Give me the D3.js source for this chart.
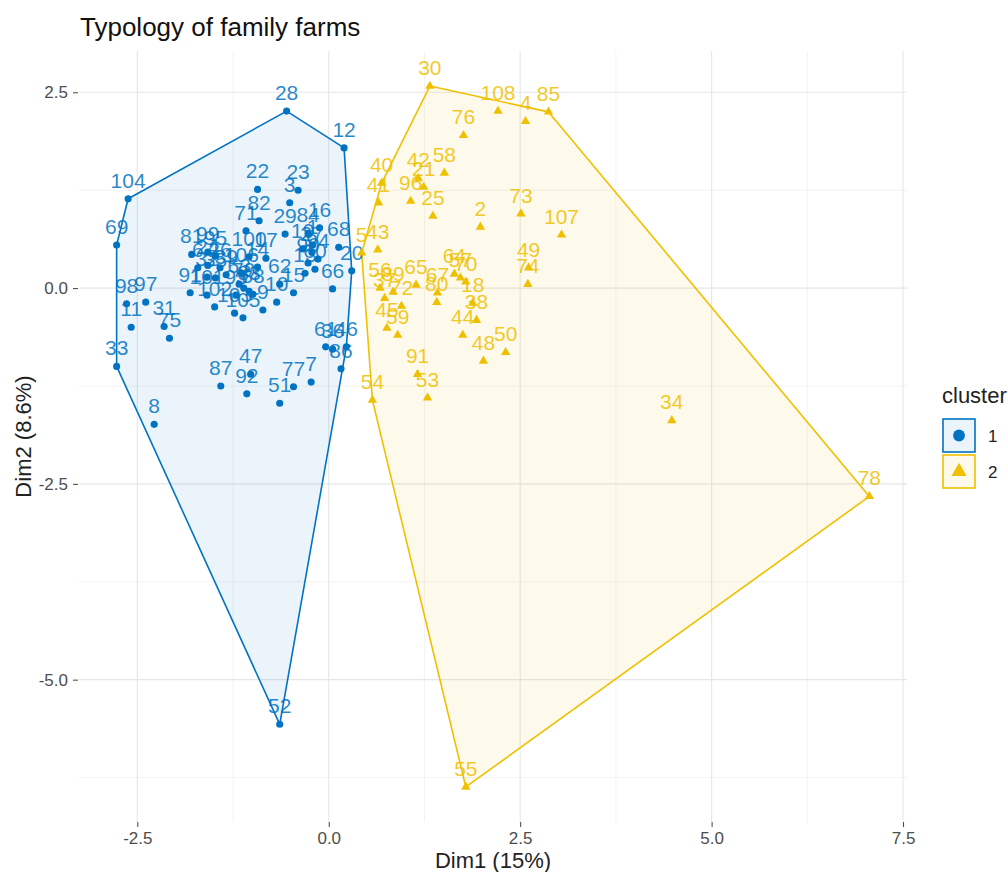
<!DOCTYPE html>
<html><head><meta charset="utf-8">
<script src="https://cdn.jsdelivr.net/npm/d3@7"></script>
<style>
body{margin:0;background:#fff;}
svg{display:block;font-family:"Liberation Sans",Arial,Helvetica,sans-serif;}
</style>
</head><body>
<svg id="chart" width="1008" height="872"></svg>
<script>
// ---------- data ----------
const chartTitle = "Typology of family farms";
const xTitle = "Dim1 (15%)";
const yTitle = "Dim2 (8.6%)";
const legendTitle = "cluster";
const clusterNames = ["1", "2"];
const clusterColors = ["#0073C2", "#EFC000"];
const xTicks = [-2.5, 0, 2.5, 5, 7.5];
const xTickLabels = ["-2.5", "0.0", "2.5", "5.0", "7.5"];
const yTicks = [2.5, 0, -2.5, -5];
const yTickLabels = ["2.5", "0.0", "-2.5", "-5.0"];
const xMinor = [-1.25, 1.25, 3.75, 6.25];
const yMinor = [1.25, -1.25, -3.75, -6.25];

const c1Ids = ["104","69","28","12","20","46","52","8","33","98","97","11","31","75","87","47","92","51","77","7","61","36","86","22","23","3","82","71","29","16","68","84","100","17","62","10","9","15","66","91","81","99","95","6","24","26","32","35","39","63","79","83","88","93","101","102","103","105","106","14","19","1","27","94","90","60","13"];
const c1X = [-2.62,-2.77,-0.55,0.20,0.30,0.23,-0.64,-2.28,-2.77,-2.64,-2.39,-2.58,-2.15,-2.08,-1.41,-1.02,-1.07,-0.64,-0.46,-0.23,-0.04,0.05,0.16,-0.93,-0.40,-0.51,-0.91,-1.08,-0.57,-0.12,0.13,-0.27,-1.04,-0.82,-0.64,-0.68,-0.86,-0.46,0.05,-1.81,-1.79,-1.58,-1.48,-1.71,-1.58,-1.42,-1.59,-1.48,-1.34,-1.17,-1.11,-1.04,-0.99,-1.21,-1.59,-1.49,-1.23,-1.12,-1.14,-0.93,-0.34,-0.21,-0.22,-0.14,-0.27,-0.18,-0.31];
const c1Y = [1.14,0.55,2.26,1.79,0.22,-0.75,-5.57,-1.74,-1.00,-0.20,-0.18,-0.50,-0.49,-0.64,-1.25,-1.10,-1.35,-1.47,-1.26,-1.20,-0.75,-0.78,-1.03,1.26,1.25,1.09,0.86,0.73,0.69,0.77,0.52,0.70,0.40,0.38,0.05,-0.18,-0.28,-0.06,-0.01,-0.06,0.43,0.46,0.41,0.26,0.29,0.26,0.14,0.13,0.17,0.05,0.00,-0.04,-0.08,-0.09,-0.09,-0.24,-0.32,-0.38,0.19,0.27,0.50,0.55,0.46,0.37,0.32,0.24,0.19];

const c2Ids = ["30","108","4","85","76","58","42","21","96","25","2","73","107","40","41","43","5","49","74","64","57","70","56","89","37","72","65","67","80","45","59","44","18","38","91","53","54","48","50","34","78","55"];
const c2X = [1.32,2.21,2.57,2.87,1.76,1.51,1.17,1.24,1.07,1.36,1.98,2.51,3.04,0.69,0.65,0.64,0.43,2.61,2.60,1.64,1.72,1.79,0.67,0.84,0.73,0.95,1.14,1.42,1.41,0.76,0.90,1.75,1.88,1.93,1.16,1.29,0.57,2.02,2.31,4.48,7.06,1.79];
const c2Y = [2.58,2.26,2.13,2.25,1.95,1.47,1.40,1.29,1.11,0.92,0.78,0.95,0.68,1.34,1.09,0.49,0.45,0.26,0.05,0.18,0.13,0.08,0.00,-0.05,-0.13,-0.23,0.04,-0.06,-0.18,-0.51,-0.60,-0.60,-0.19,-0.41,-1.10,-1.40,-1.43,-0.93,-0.82,-1.69,-2.66,-6.37];

// ---------- layout ----------
const svg = d3.select("#chart");
const panel = {left: 79, right: 907, top: 51, bottom: 822};

const groups = [
  {name: clusterNames[0], color: clusterColors[0], shape: d3.symbolCircle,
   pts: c1Ids.map((id, i) => ({id, x: c1X[i], y: c1Y[i]}))},
  {name: clusterNames[1], color: clusterColors[1], shape: d3.symbolTriangle,
   pts: c2Ids.map((id, i) => ({id, x: c2X[i], y: c2Y[i]}))}
];
const all = groups.flatMap(g => g.pts);
const xe = d3.extent(all, d => d.x), ye = d3.extent(all, d => d.y);
const xp = (xe[1] - xe[0]) * 0.05, yp = (ye[1] - ye[0]) * 0.05;
const x = d3.scaleLinear().domain([xe[0] - xp, xe[1] + xp]).range([panel.left, panel.right]);
const y = d3.scaleLinear().domain([ye[0] - yp, ye[1] + yp]).range([panel.bottom, panel.top]);

// grid
const grid = svg.append("g");
grid.selectAll(".xm").data(xMinor).join("line")
  .attr("x1", d => x(d)).attr("x2", d => x(d)).attr("y1", panel.top).attr("y2", panel.bottom)
  .attr("stroke", "#EBEBEB").attr("stroke-width", 0.6);
grid.selectAll(".ym").data(yMinor).join("line")
  .attr("y1", d => y(d)).attr("y2", d => y(d)).attr("x1", panel.left).attr("x2", panel.right)
  .attr("stroke", "#EBEBEB").attr("stroke-width", 0.6);
grid.selectAll(".xM").data(xTicks).join("line")
  .attr("x1", d => x(d)).attr("x2", d => x(d)).attr("y1", panel.top).attr("y2", panel.bottom)
  .attr("stroke", "#E6E6E6").attr("stroke-width", 1.1);
grid.selectAll(".yM").data(yTicks).join("line")
  .attr("y1", d => y(d)).attr("y2", d => y(d)).attr("x1", panel.left).attr("x2", panel.right)
  .attr("stroke", "#E6E6E6").attr("stroke-width", 1.1);

// axes
const xAxis = d3.axisBottom(x).tickValues(xTicks).tickFormat((d, i) => xTickLabels[i]).tickSize(5).tickPadding(5);
const yAxis = d3.axisLeft(y).tickValues(yTicks).tickFormat((d, i) => yTickLabels[i]).tickSize(5).tickPadding(5);
const gx = svg.append("g").attr("transform", `translate(0,${panel.bottom})`).call(xAxis);
const gy = svg.append("g").attr("transform", `translate(${panel.left - 1},0)`).call(yAxis);
[gx, gy].forEach(g => {
  g.select(".domain").remove();
  g.selectAll(".tick line").attr("stroke", "#444").attr("stroke-width", 1);
  g.selectAll(".tick text").attr("fill", "#4D4D4D").style("font-size", "17px")
   .style("font-family", '"Liberation Sans",Arial,sans-serif');
});

// hulls
groups.forEach(g => {
  const hull = d3.polygonHull(g.pts.map(p => [x(p.x), y(p.y)]));
  svg.append("path")
    .attr("d", "M" + hull.map(p => p.join(",")).join("L") + "Z")
    .attr("fill", g.color).attr("fill-opacity", 0.08)
    .attr("stroke", g.color).attr("stroke-width", 1.6).attr("stroke-linejoin", "round");
});

// points + labels
groups.forEach(g => {
  const size = g.shape === d3.symbolCircle ? 40 : 38;
  svg.append("g").selectAll("path").data(g.pts).join("path")
    .attr("d", d3.symbol().type(g.shape).size(size))
    .attr("transform", d => `translate(${x(d.x)},${y(d.y)})`)
    .attr("fill", g.color);
  svg.append("g").selectAll("text").data(g.pts).join("text")
    .attr("x", d => x(d.x)).attr("y", d => y(d.y) - 11)
    .attr("text-anchor", "middle").attr("fill", g.color).attr("fill-opacity", 0.85)
    .style("font-size", "21px").text(d => d.id);
});

// titles
svg.append("text").attr("x", 80).attr("y", 36).style("font-size", "26px").attr("fill", "#111").text(chartTitle);
svg.append("text").attr("x", (panel.left + panel.right) / 2).attr("y", 868).attr("text-anchor", "middle")
  .style("font-size", "22px").attr("fill", "#222").text(xTitle);
svg.append("text").attr("transform", `translate(31,${(panel.top + panel.bottom) / 2}) rotate(-90)`)
  .attr("text-anchor", "middle").style("font-size", "22px").attr("fill", "#222").text(yTitle);

// legend
const lg = svg.append("g");
lg.append("text").attr("x", 942).attr("y", 403).style("font-size", "22px").attr("fill", "#222").text(legendTitle);
groups.forEach((g, i) => {
  const ky = 419 + i * 36;
  lg.append("rect").attr("x", 943).attr("y", ky).attr("width", 32).attr("height", 33)
    .attr("fill", g.color).attr("fill-opacity", 0.08).attr("stroke", g.color).attr("stroke-width", 1.6);
  lg.append("path").attr("d", d3.symbol().type(g.shape).size(g.shape === d3.symbolCircle ? 110 : 100))
    .attr("transform", `translate(959,${ky + 16.5})`).attr("fill", g.color);
  lg.append("text").attr("x", 988).attr("y", ky + 23).style("font-size", "17px").attr("fill", "#222").text(g.name);
});
</script>
</body></html>
